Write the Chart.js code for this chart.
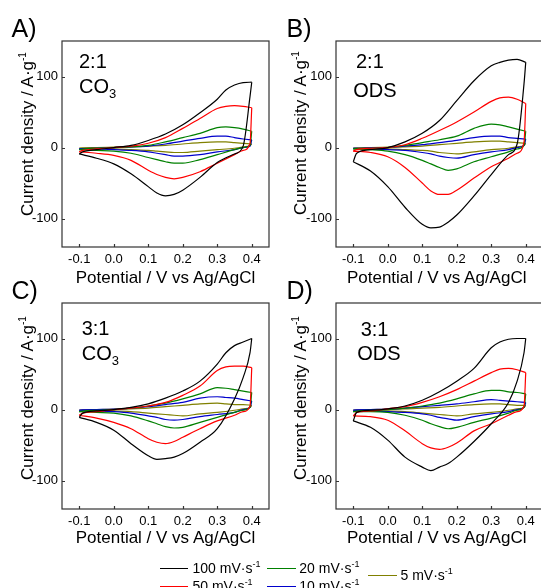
<!DOCTYPE html>
<html><head><meta charset="utf-8">
<script src="https://cdn.jsdelivr.net/npm/chart.js@4"></script>
<style>
html,body{margin:0;padding:0;background:#fff;overflow:hidden;width:541px;height:588px;}
#wrap{position:relative;width:541px;height:588px;overflow:hidden;font-family:"Liberation Sans",Arial,sans-serif;color:#000;}
canvas{position:absolute;}
.t{position:absolute;white-space:nowrap;line-height:1;}
.rot{position:absolute;white-space:nowrap;line-height:1;font-size:17px;transform:translate(-50%,-50%) rotate(-90deg);}
.sup{font-size:10px;position:relative;top:-7px;}
.lsup{font-size:9px;position:relative;top:-6px;}
.sub{font-size:13px;position:relative;top:5px;}
.ln{position:absolute;height:0;border-top:1.4px solid #000;}
</style></head><body><div id="wrap">
<canvas id="cA" width="280" height="290" style="left:0;top:0"></canvas>
<canvas id="cB" width="280" height="290" style="left:273.5px;top:0"></canvas>
<canvas id="cC" width="280" height="290" style="left:0;top:262px"></canvas>
<canvas id="cD" width="280" height="290" style="left:273.5px;top:262px"></canvas>

<div class="t" style="font-size:25px;left:11.5px;top:15.5px">A)</div>
<div class="t" style="font-size:25px;left:286.5px;top:15.5px">B)</div>
<div class="t" style="font-size:25px;left:11.5px;top:277.5px">C)</div>
<div class="t" style="font-size:25px;left:286.5px;top:277.5px">D)</div>

<div class="t" style="font-size:20px;left:79px;top:51.4px">2:1</div>
<div class="t" style="font-size:20px;left:79px;top:76.4px">CO<span class="sub">3</span></div>
<div class="t" style="font-size:20px;left:356px;top:51.4px">2:1</div>
<div class="t" style="font-size:20px;left:353.3px;top:79.8px">ODS</div>
<div class="t" style="font-size:20px;left:81.7px;top:318.1px">3:1</div>
<div class="t" style="font-size:20px;left:81.7px;top:343.1px">CO<span class="sub">3</span></div>
<div class="t" style="font-size:20px;left:360.7px;top:319.1px">3:1</div>
<div class="t" style="font-size:20px;left:357.3px;top:343.1px">ODS</div>

<div class="t" style="font-size:17px;left:165.5px;top:268.6px;transform:translateX(-50%)">Potential / V vs Ag/AgCl</div>
<div class="t" style="font-size:17px;left:436.7px;top:268.6px;transform:translateX(-50%)">Potential / V vs Ag/AgCl</div>
<div class="t" style="font-size:17px;left:165.5px;top:528.6px;transform:translateX(-50%)">Potential / V vs Ag/AgCl</div>
<div class="t" style="font-size:17px;left:436.7px;top:528.6px;transform:translateX(-50%)">Potential / V vs Ag/AgCl</div>

<div class="rot" style="left:27.1px;top:133.5px">Current density / A·g<span class="sup">-1</span></div>
<div class="rot" style="left:300.1px;top:133.3px">Current density / A·g<span class="sup">-1</span></div>
<div class="rot" style="left:27.1px;top:398.3px">Current density / A·g<span class="sup">-1</span></div>
<div class="rot" style="left:300.1px;top:398.3px">Current density / A·g<span class="sup">-1</span></div>

<div class="ln" style="left:160px;width:27.5px;top:567.5px;border-color:#000"></div>
<div class="t" style="font-size:14px;left:192.5px;top:561.2px">100 mV·s<span class="lsup">-1</span></div>
<div class="ln" style="left:267px;width:28.5px;top:567.5px;border-color:#008000"></div>
<div class="t" style="font-size:14px;left:299.3px;top:561.2px">20 mV·s<span class="lsup">-1</span></div>
<div class="ln" style="left:160px;width:27.5px;top:585.5px;border-color:#ff0000"></div>
<div class="t" style="font-size:14px;left:192.5px;top:578.7px">50 mV·s<span class="lsup">-1</span></div>
<div class="ln" style="left:267px;width:28.5px;top:585.5px;border-color:#0000cc"></div>
<div class="t" style="font-size:14px;left:299.3px;top:578.7px">10 mV·s<span class="lsup">-1</span></div>
<div class="ln" style="left:368.3px;width:28.3px;top:575px;border-color:#808000"></div>
<div class="t" style="font-size:14px;left:400.5px;top:568.2px">5 mV·s<span class="lsup">-1</span></div>
</div>
<script>
// Potential grids (V) for anodic (up) and cathodic (down) sweeps
const potUp = [-0.1, -0.09, -0.05, 0, 0.05, 0.1, 0.15, 0.2, 0.25, 0.3, 0.325, 0.35, 0.375, 0.4];
const potDown = [0.4, 0.395, 0.375, 0.35, 0.3, 0.25, 0.2, 0.175, 0.15, 0.125, 0.1, 0.05, 0, -0.05, -0.1];
const xTickValues = [-0.1, 0, 0.1, 0.2, 0.3, 0.4];
const yTickValues = [-100, 0, 100];
const rates = ['100 mV·s-1', '50 mV·s-1', '20 mV·s-1', '10 mV·s-1', '5 mV·s-1'];
const rateColors = ['#000000', '#ff0000', '#008000', '#0000cc', '#808000'];

// Panel A (2:1 CO3)
const A_100_up = [-9, -6, -3, 0, 3, 10, 19, 32, 49, 68, 81, 88, 91.5, 92];
const A_100_dn = [92, 72, 2, -9, -21, -42, -60, -66, -68, -64, -55, -37, -23, -15, -9];
const A_50_up = [-6, -4, -2, 0, 2, 6, 14, 27, 41, 55, 58, 59, 58, 56];
const A_50_dn = [56, 6, -4, -10, -22, -34, -42, -44, -42, -38, -32, -18, -11, -8, -6];
const A_20_up = [-3, -2, -1, 0, 1, 3, 8, 14, 20, 28, 29, 28, 26, 23];
const A_20_dn = [23, 3, 0, -3, -10, -17, -22, -22, -20, -17, -14, -8, -5, -4, -3];
const A_10_up = [-2, -1.5, -1, 0, 1, 2, 5, 9, 13, 16, 16, 14, 12, 11];
const A_10_dn = [11, 2, 0, -3, -6, -10, -12, -12, -10, -8, -6, -4, -3, -2, -2];
const A_5_up = [-1, -0.5, 0, 0.5, 1, 2, 3, 5, 7, 8, 8, 7, 6, 5];
const A_5_dn = [5, 3, 1, -1, -3, -5, -7, -7, -6, -5, -4, -3, -2, -1.5, -1];

// Panel B (2:1 ODS)
const B_100_up = [-20, -8, -3, 0, 8, 20, 38, 66, 94, 115, 120, 123, 124, 120];
const B_100_dn = [120, 90, 5, -10, -38, -68, -95, -105, -112, -113, -108, -84, -55, -33, -20];
const B_50_up = [-5, -3, -1, 0, 4, 13, 24, 36, 50, 65, 70, 71, 68, 62];
const B_50_dn = [62, 8, -8, -15, -27, -43, -60, -66, -66, -61, -50, -28, -13, -7, -5];
const B_20_up = [-2, -1.5, -1, 0, 3, 7, 11, 16, 27, 33, 32, 29, 26, 23];
const B_20_dn = [23, 3, -2, -6, -13, -20, -30, -32, -28, -23, -18, -10, -5, -3, -2];
const B_10_up = [-1, -1, -0.5, 0, 2, 4, 7, 10, 14, 16, 16, 14, 13, 12];
const B_10_dn = [12, 3, 0, -3, -6, -10, -15, -14, -12, -9, -7, -4, -3, -2, -1];
const B_5_up = [-1, -0.5, 0, 0.5, 1, 2, 4, 6, 8, 9, 9, 8, 7, 6];
const B_5_dn = [6, 3, 1, -1, -3, -6, -9, -8, -7, -5, -4, -3, -2, -1.5, -1];

// Panel C (3:1 CO3)
const C_100_up = [-11, -5, -2, 0, 3, 8, 16, 26, 40, 64, 80, 90, 95, 100];
const C_100_dn = [100, 80, 45, 15, -27, -46, -62, -67, -69, -70, -65, -48, -29, -18, -11];
const C_50_up = [-8, -5, -3, 0, 2, 5, 10, 20, 33, 55, 60, 61, 61, 59];
const C_50_dn = [59, 5, -3, -8, -16, -27, -39, -45, -48, -46, -41, -27, -18, -12, -8];
const C_20_up = [-3, -2, -1, 0, 2, 5, 9, 15, 22, 31, 30, 28, 26, 24];
const C_20_dn = [24, 3, -1, -4, -11, -18, -25, -26, -24, -20, -16, -9, -5, -4, -3];
const C_10_up = [-1, -0.5, 0, 0.5, 2, 4, 7, 10, 16, 18, 17, 16, 14, 12];
const C_10_dn = [12, 3, 0, -4, -7, -10, -14, -15, -14, -11, -9, -5, -3, -2, -1];
const C_5_up = [-1, -0.5, 0, 0.5, 1, 2, 4, 6, 8, 9, 8, 7, 7, 6];
const C_5_dn = [6, 3, 1, -1, -4, -6, -9, -8, -7, -6, -5, -3, -2, -1.5, -1];

// Panel D (3:1 ODS)
const D_100_up = [-16, -4, -1, 1, 5, 13, 25, 40, 58, 87, 95, 99, 100, 100];
const D_100_dn = [100, 80, 40, 10, -20, -45, -67, -76, -81, -86, -81, -67, -43, -25, -16];
const D_50_up = [-9, -4, -2, 1, 4, 10, 18, 28, 40, 52, 57, 58, 56, 52];
const D_50_dn = [52, 5, -3, -8, -20, -30, -47, -53, -56, -54, -48, -30, -15, -10, -9];
const D_20_up = [-3, -2, -1, 0, 2, 5, 9, 15, 22, 27, 27, 25, 24, 22];
const D_20_dn = [22, 3, -1, -5, -12, -18, -25, -27, -24, -20, -15, -8, -4, -3, -3];
const D_10_up = [-1, -0.5, 0, 0.5, 2, 4, 6, 8, 11, 14, 13, 12, 11, 10];
const D_10_dn = [10, 3, 0, -3, -6, -10, -15, -13, -11, -8, -6, -4, -3, -2, -1];
const D_5_up = [-1, -0.5, 0, 0.5, 1, 2, 3, 5, 7, 8, 8, 7, 6, 6];
const D_5_dn = [6, 3, 1, -1, -4, -6, -9, -8, -7, -6, -5, -3, -2, -1.5, -1];

const panels = {
  cA: [[A_100_up, A_100_dn], [A_50_up, A_50_dn], [A_20_up, A_20_dn], [A_10_up, A_10_dn], [A_5_up, A_5_dn]],
  cB: [[B_100_up, B_100_dn], [B_50_up, B_50_dn], [B_20_up, B_20_dn], [B_10_up, B_10_dn], [B_5_up, B_5_dn]],
  cC: [[C_100_up, C_100_dn], [C_50_up, C_50_dn], [C_20_up, C_20_dn], [C_10_up, C_10_dn], [C_5_up, C_5_dn]],
  cD: [[D_100_up, D_100_dn], [D_50_up, D_50_dn], [D_20_up, D_20_dn], [D_10_up, D_10_dn], [D_5_up, D_5_dn]]
};

const pts = (xs, ys) => xs.map((x, i) => ({x: x, y: ys[i]}));

const framePlugin = {
  id: 'frame',
  afterDatasetsDraw(chart) {
    const {ctx, chartArea: a, scales} = chart;
    const x = scales.x, y = scales.y;
    ctx.save();
    ctx.strokeStyle = '#333';
    ctx.lineWidth = 1.2;
    ctx.strokeRect(a.left, a.top, a.right - a.left, a.bottom - a.top);
    ctx.beginPath();
    x.ticks.forEach(t => { const px = Math.round(x.getPixelForValue(t.value)) + 0.5; ctx.moveTo(px, a.bottom); ctx.lineTo(px, a.bottom - 3); });
    y.ticks.forEach(t => { const py = Math.round(y.getPixelForValue(t.value)) + 0.5; ctx.moveTo(a.left, py); ctx.lineTo(a.left + 3, py); });
    ctx.stroke();
    ctx.restore();
  }
};

function build(id) {
  const datasets = [];
  panels[id].forEach((pair, i) => {
    const common = {borderColor: rateColors[i], backgroundColor: rateColors[i], borderWidth: 1.2,
      pointRadius: 0, showLine: true, fill: false, cubicInterpolationMode: 'monotone'};
    datasets.push(Object.assign({label: rates[i] + ' anodic', data: pts(potUp, pair[0])}, common));
    datasets.push(Object.assign({label: rates[i] + ' cathodic', data: pts(potDown, pair[1])}, common));
  });
  new Chart(document.getElementById(id), {
    type: 'scatter',
    data: {datasets},
    options: {
      responsive: false, animation: false, events: [],
      layout: {padding: {top: 41, right: 11, bottom: 0, left: 0}},
      plugins: {legend: {display: false}, tooltip: {enabled: false}},
      scales: {
        x: {type: 'linear', min: -0.15, max: 0.45,
          afterFit: s => { s.height = 43; },
          afterBuildTicks: s => { s.ticks = xTickValues.map(v => ({value: v})); },
          grid: {display: false, drawTicks: false}, border: {display: false},
          ticks: {padding: 5, color: '#000', maxRotation: 0, autoSkip: false,
            font: {family: '"Liberation Sans", Arial, sans-serif', size: 13},
            callback: v => Number(v).toFixed(1)}},
        y: {type: 'linear', min: -140, max: 150,
          afterFit: s => { s.width = 62; },
          afterBuildTicks: s => { s.ticks = yTickValues.map(v => ({value: v})); },
          grid: {display: false, drawTicks: false}, border: {display: false},
          ticks: {padding: 4, color: '#000',
            font: {family: '"Liberation Sans", Arial, sans-serif', size: 13},
            callback: v => String(v)}}
      }
    },
    plugins: [framePlugin]
  });
}
['cA', 'cB', 'cC', 'cD'].forEach(build);
</script>
</body></html>
